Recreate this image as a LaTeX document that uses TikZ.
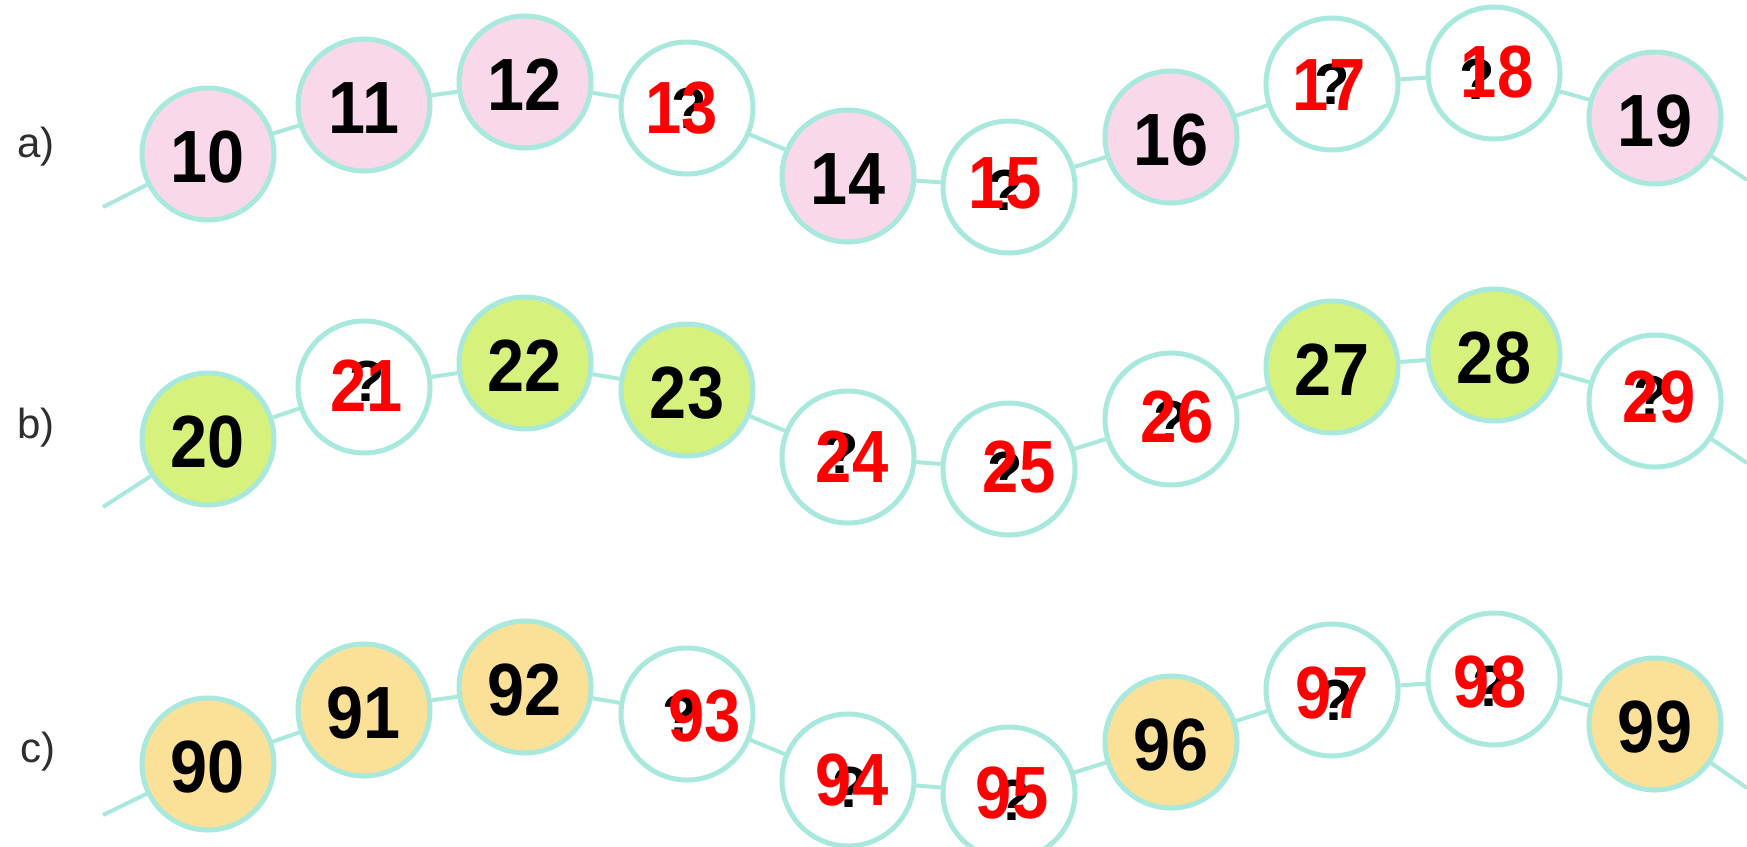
\documentclass[tikz,border=0pt]{standalone}
\usepackage{fontspec}
\setmainfont{Liberation Sans}
\definecolor{rim}{HTML}{A8E8DD}
\definecolor{pinkf}{HTML}{F9D8EA}
\definecolor{greenf}{HTML}{D6F27C}
\definecolor{yellowf}{HTML}{FBE198}
\definecolor{lbl}{HTML}{2E2E2E}
\newcommand{\numfont}{\fontsize{74}{74}\selectfont\bfseries}
\newcommand{\ansfont}{\fontsize{74}{74}\selectfont\bfseries}
\newcommand{\qfont}{\fontsize{58}{58}\selectfont\bfseries}
\tikzset{
  ball/.style={circle, draw=rim, line width=5pt, minimum size=132pt, inner sep=0pt, font=\numfont, text=black},
  pinkball/.style={ball, fill=pinkf},
  greenball/.style={ball, fill=greenf},
  yellowball/.style={ball, fill=yellowf},
  blankball/.style={ball, fill=white},
  num/.style={inner sep=0pt, font=\numfont, text=black, xscale=0.9},
  qmark/.style={inner sep=0pt, font=\qfont, text=black},
  answer/.style={inner sep=0pt, font=\ansfont, text=red, xscale=0.88},
  rowlabel/.style={inner sep=0pt, font=\fontsize{42}{42}\selectfont, text=lbl},
  link/.style={draw=rim, line width=4pt}
}
\begin{document}
\begin{tikzpicture}[x=1pt, y=-1pt]
\useasboundingbox (0,0) rectangle (1747,846);
\clip (0,0) rectangle (1747,846);
\fill[white] (0,0) rectangle (1747,846);
% row labels
\node[rowlabel] (la) at (36,147) {a)};
\node[rowlabel] (lb) at (36,428) {b)};
\node[rowlabel] (lc) at (38,752) {c)};
% ---------- row a ----------
\node[pinkball] (n10) at (208,154) {};
\node[pinkball] (n11) at (364,105) {};
\node[pinkball] (n12) at (525,82) {};
\node[blankball] (n13) at (687,108) {};
\node[pinkball] (n14) at (848,176) {};
\node[blankball] (n15) at (1009,187) {};
\node[pinkball] (n16) at (1171,137) {};
\node[blankball] (n17) at (1332,84) {};
\node[blankball] (n18) at (1494,73) {};
\node[pinkball] (n19) at (1655,118) {};
\coordinate (sa) at (103,207);
\coordinate (ea) at (1747,180);
\draw[link] (sa) -- (n10);
\foreach \a/\b in {10/11,11/12,12/13,13/14,14/15,15/16,16/17,17/18,18/19}
  \draw[link] (n\a) -- (n\b);
\draw[link] (n19) -- (ea);
\foreach \k in {10,11,12,14,16,19}
  \node[num] (t\k) at ([yshift=-3pt]n\k.center) {\k};
\node[qmark] (q13) at (689,108) {?};
\node[answer] (r13) at (682,108) {13};
\node[qmark] (q15) at (1005,190) {?};
\node[answer] (r15) at (1005,183) {15};
\node[qmark] (q17) at (1332,84) {?};
\node[answer] (r17) at (1329,85) {17};
\node[qmark] (q18) at (1477,79) {?};
\node[answer] (r18) at (1497,72) {18};
% ---------- row b ----------
\node[greenball] (n20) at (208,439) {};
\node[blankball] (n21) at (364,387) {};
\node[greenball] (n22) at (525,363) {};
\node[greenball] (n23) at (687,390) {};
\node[blankball] (n24) at (848,457) {};
\node[blankball] (n25) at (1009,469) {};
\node[blankball] (n26) at (1171,419) {};
\node[greenball] (n27) at (1332,367) {};
\node[greenball] (n28) at (1494,355) {};
\node[blankball] (n29) at (1655,401) {};
\coordinate (sb) at (103,507);
\coordinate (eb) at (1747,463);
\draw[link] (sb) -- (n20);
\foreach \a/\b in {20/21,21/22,22/23,23/24,24/25,25/26,26/27,27/28,28/29}
  \draw[link] (n\a) -- (n\b);
\draw[link] (n29) -- (eb);
\foreach \k in {20,22,23,27,28}
  \node[num] (t\k) at ([yshift=-3pt]n\k.center) {\k};
\node[qmark] (q21) at (367,381) {?};
\node[answer] (r21) at (367,386) {21};
\node[qmark] (q24) at (841,453) {?};
\node[answer] (r24) at (852,457) {24};
\node[qmark] (q25) at (1005,472) {?};
\node[answer] (r25) at (1019,467) {25};
\node[qmark] (q26) at (1171,421) {?};
\node[answer] (r26) at (1177,417) {26};
\node[qmark] (q29) at (1651,396) {?};
\node[answer] (r29) at (1659,397) {29};
% ---------- row c ----------
\node[yellowball] (n90) at (208,764) {};
\node[yellowball] (n91) at (364,710) {};
\node[yellowball] (n92) at (525,687) {};
\node[blankball] (n93) at (687,714) {};
\node[blankball] (n94) at (848,780) {};
\node[blankball] (n95) at (1009,793) {};
\node[yellowball] (n96) at (1171,742) {};
\node[blankball] (n97) at (1332,690) {};
\node[blankball] (n98) at (1494,679) {};
\node[yellowball] (n99) at (1655,724) {};
\coordinate (sc) at (103,815);
\coordinate (ec) at (1747,788);
\draw[link] (sc) -- (n90);
\foreach \a/\b in {90/91,91/92,92/93,93/94,94/95,95/96,96/97,97/98,98/99}
  \draw[link] (n\a) -- (n\b);
\draw[link] (n99) -- (ec);
\foreach \k in {90,91,92,96,99}
  \node[num] (t\k) at ([yshift=-3pt]n\k.center) {\k};
\node[qmark] (q93) at (680,715) {?};
\node[answer] (r93) at (705,716) {93};
\node[qmark] (q94) at (850,787) {?};
\node[answer] (r94) at (852,780) {94};
\node[qmark] (q95) at (1013,800) {?};
\node[answer] (r95) at (1012,793) {95};
\node[qmark] (q97) at (1335,700) {?};
\node[answer] (r97) at (1332,693) {97};
\node[qmark] (q98) at (1490,686) {?};
\node[answer] (r98) at (1490,682) {98};
\end{tikzpicture}
\end{document}
